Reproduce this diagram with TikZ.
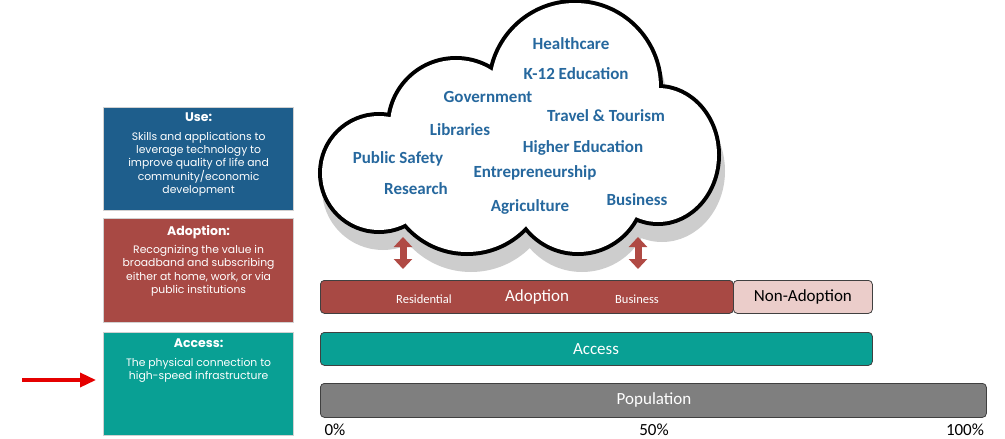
\documentclass[tikz,border=0pt]{standalone}
\usepackage{fontspec}
\setmainfont{Carlito}
\newfontfamily\gothic{Poppins}
\usetikzlibrary{positioning,arrows.meta}

\definecolor{useblue}{RGB}{30,94,140}
\definecolor{adoptred}{RGB}{168,73,68}
\definecolor{accteal}{RGB}{9,160,148}
\definecolor{popgray}{RGB}{127,127,127}
\definecolor{nonpink}{RGB}{235,205,202}
\definecolor{wordblue}{RGB}{38,104,158}
\definecolor{shadowgray}{RGB}{205,205,205}
\definecolor{arrowred}{RGB}{176,74,68}

\newcommand\boxtitle{\gothic\bfseries\fontsize{12.5}{15}\selectfont}

\tikzset{
  infobox/.style={draw=black!18, line width=1.2pt, minimum width=190pt, anchor=north west, inner sep=0pt},
  infotext/.style={text=white, align=center, font=\gothic\fontsize{10.8}{13.3}\selectfont, anchor=north, inner sep=0pt},
  bar/.style={draw=black!75, line width=0.8pt, rounded corners=4pt, minimum height=33pt, anchor=north west, inner sep=0pt},
  barlabel/.style={font=\fontsize{17}{20}\selectfont, text=white},
  sublabel/.style={font=\fontsize{12.5}{15}\selectfont, text=white},
  pct/.style={font=\fontsize{17}{20}\selectfont, anchor=base, inner sep=0pt},
  word/.style={font=\bfseries\fontsize{17}{19}\selectfont, text=wordblue},
  updown/.style={arrowred, line width=7pt, {Triangle[width=18pt,length=10pt]}-{Triangle[width=18pt,length=10pt]}},
  pointer/.style={red!90!black, line width=3.5pt, -{Triangle[width=14pt,length=16pt]}},
}

\begin{document}
\begin{tikzpicture}[x=1pt,y=-1pt]
        \useasboundingbox (0,0) rectangle (1005,439);
        \def\cloudpuffs{(379,173) circle[radius=57] (456,126) circle[radius=66]
          (575,87) circle[radius=84] (658,155) ellipse[x radius=59,y radius=67]
          (578,187) circle[radius=65] (467,172) circle[radius=80]}
        \def\cloudcore{(410,215) -- (400,125) -- (495,75) -- (655,97) -- (630,208) -- (525,222) -- cycle}

        % left boxes
        \node[infobox, fill=useblue, minimum height=103pt] (usebox) at (103,107) {};
        \node[infotext, below=6pt of usebox.north] (usetext) {{\boxtitle Use:}\\[5pt]
          Skills and applications to\\ leverage technology to\\ improve quality of life and\\
          community/economic\\ development};
        \node[infobox, fill=adoptred, minimum height=104pt] (adoptbox) at (103,218) {};
        \node[infotext, below=7pt of adoptbox.north] (adopttext) {{\boxtitle Adoption:}\\[5pt]
          Recognizing the value in\\ broadband and subscribing\\ either at home, work, or via\\ public institutions};
        \node[infobox, fill=accteal, minimum height=103pt] (accbox) at (103,332) {};
        \node[infotext, below=7pt of accbox.north] (acctext) {{\boxtitle Access:}\\[5pt]
          The physical connection to\\ high-speed infrastructure};
        \coordinate (ptr) at (22,380);
        \draw[pointer] (ptr) -- (ptr -| accbox.west) [shorten >=7pt];

        % cloud
        \begin{scope}[shift={(4,16)}]
          \filldraw[shadowgray, line width=8pt] \cloudpuffs;
          \fill[shadowgray] \cloudcore;
        \end{scope}
        \draw[line width=8pt] \cloudpuffs;
        \fill[white] \cloudpuffs;
        \fill[white] \cloudcore;

        \node[word] (healthcare) at (571,44) {Healthcare};
        \node[word] (k12) at (576,74) {K-12 Education};
        \node[word] (government) at (488,97) {Government};
        \node[word] (travel) at (606,116) {Travel \& Tourism};
        \node[word] (libraries) at (460,130) {Libraries};
        \node[word] (higher) at (583,148) {Higher Education};
        \node[word] (safety) at (398,159) {Public Safety};
        \node[word] (entre) at (535,173) {Entrepreneurship};
        \node[word] (research) at (416,189) {Research};
        \node[word] (agri) at (530,207) {Agriculture};
        \node[word] (business) at (637,200) {Business};

        % bars
        \node[bar, fill=adoptred, minimum width=413pt] (adoptbar) at (320,280) {};
        \node[bar, fill=nonpink, minimum width=139pt] (nonbar) at (733,280) {};
        \node[bar, fill=accteal, minimum width=552pt] (accbar) at (320,332) {};
        \node[bar, fill=popgray, minimum width=666pt, minimum height=34pt] (popbar) at (320,383) {};
        \node[sublabel] (resid) at (424,299) {Residential};
        \node[barlabel] (adoptlbl) at (537,297) {Adoption};
        \node[sublabel] (buslbl) at (637,299) {Business};
        \node[barlabel, text=black] (nonlbl) at (nonbar) {Non-Adoption};
        \node[barlabel] (acclbl) at (596,349) {Access};
        \node[barlabel] (poplbl) at (654,400) {Population};
        \node[pct] (p0) at (335,435) {0\%};
        \node[pct] (p50) at (654,435) {50\%};
        \node[pct] (p100) at (965,435) {100\%};

        \coordinate (restop) at (403,237);
        \coordinate (resbot) at (403,269);
        \coordinate (bustop) at (638,237);
        \coordinate (busbot) at (638,269);
        \draw[updown] (restop) -- (resbot);
        \draw[updown] (bustop) -- (busbot);
\end{tikzpicture}
\end{document}
